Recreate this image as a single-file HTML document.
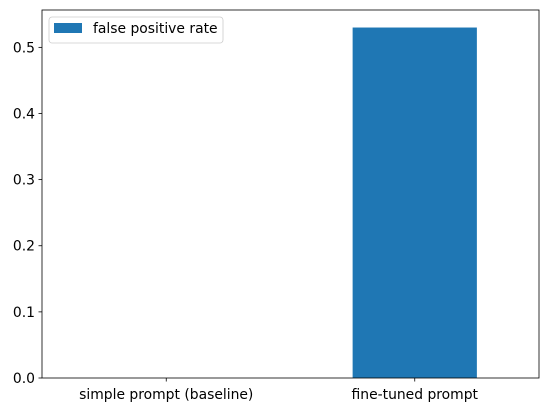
<!DOCTYPE html>
<html><head><meta charset="utf-8"><style>
body{margin:0;background:#fff;font-family:"Liberation Sans","DejaVu Sans",sans-serif;}
</style></head><body>
<svg id="chart" width="547" height="413" xmlns="http://www.w3.org/2000/svg" font-family="DejaVu Sans, Liberation Sans, sans-serif" font-size="13.9"></svg>
<script>
const categories = ["simple prompt (baseline)", "fine-tuned prompt"];
const values = [0.0, 0.53];
const yTicks = [0.0, 0.1, 0.2, 0.3, 0.4, 0.5];
const yTickLabels = ["0.0", "0.1", "0.2", "0.3", "0.4", "0.5"];
const seriesName = "false positive rate";

const L=42,R=539,T=10,B=378, yMax=0.5565;
const NS="http://www.w3.org/2000/svg";
const svg=document.getElementById('chart');
function y(v){return B-(v/yMax)*(B-T);}
function x(i){return L+(i+0.5)*(R-L)/categories.length;}
const bw=0.5*(R-L)/categories.length;
function mk(tag,attrs,parent){const e=document.createElementNS(NS,tag);for(const k in attrs)e.setAttribute(k,attrs[k]);(parent||svg).appendChild(e);return e;}

values.forEach((v,i)=>{
  const r=mk('rect',{x:x(i)-bw/2,y:y(v),width:bw,height:B-y(v),fill:'#1f77b4'});
  
  
});
const frame=mk('rect',{x:L,y:T,width:R-L,height:B-T,fill:'none',stroke:'#000','stroke-width':0.8});



yTicks.forEach((t,i)=>{
  mk('line',{x1:L-3.5,x2:L,y1:y(t),y2:y(t),stroke:'#000','stroke-width':0.8});
  const tx=mk('text',{x:L-7,y:y(t)+5,'text-anchor':'end',fill:'#000'});
  tx.textContent=yTickLabels[i];
  
  
});
categories.forEach((c,i)=>{
  mk('line',{x1:x(i),x2:x(i),y1:B,y2:B+3.5,stroke:'#000','stroke-width':0.8});
  const tx=mk('text',{x:x(i),y:B+21,'text-anchor':'middle',fill:'#000'});
  tx.textContent=c;
  
  
});
const lg=mk('g',{});


mk('rect',{x:49,y:17,width:174,height:26,rx:3,fill:'#fff',stroke:'#ccc','stroke-width':0.8},lg);
mk('rect',{x:54,y:23,width:28,height:10,fill:'#1f77b4'},lg);
const lt=mk('text',{x:93,y:33,fill:'#000'},lg);
lt.textContent=seriesName;
</script>
</body></html>
